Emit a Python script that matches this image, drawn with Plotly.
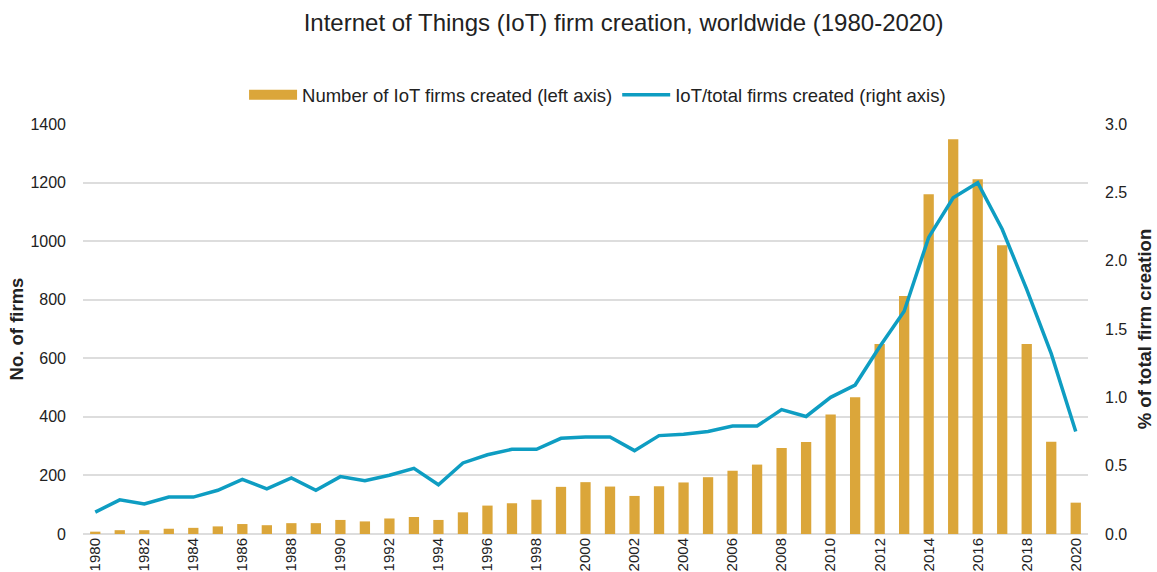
import plotly.graph_objects as go

years = list(range(1980, 2021))

iot_firms = [8, 13, 13, 18, 21, 26, 34, 30, 37, 37,
             48, 43, 53, 58, 48, 74, 97, 105, 117, 161,
             177, 162, 130, 163, 176, 194, 216, 237, 294, 314,
             408, 467, 649, 813, 1160, 1348, 1211, 986, 649, 315,
             107]

iot_share = [0.16, 0.25, 0.22, 0.27, 0.27, 0.32, 0.40, 0.33, 0.41, 0.32,
             0.42, 0.39, 0.43, 0.48, 0.36, 0.52, 0.58, 0.62, 0.62, 0.70,
             0.71, 0.71, 0.61, 0.72, 0.73, 0.75, 0.79, 0.79, 0.91, 0.86,
             1.00, 1.09, 1.37, 1.63, 2.17, 2.46, 2.57, 2.23, 1.79, 1.32,
             0.75]

left_ticks = [0, 200, 400, 600, 800, 1000, 1200, 1400]
right_ticks = [0.0, 0.5, 1.0, 1.5, 2.0, 2.5, 3.0]

FONT = "Liberation Sans, Arial, sans-serif"
BAR_COLOR = "#DBA63A"
LINE_COLOR = "#0E9DC2"
BAR_NAME = "Number of IoT firms created (left axis)"
LINE_NAME = "IoT/total firms created (right axis)"

fig = go.Figure()

fig.add_trace(go.Bar(
    x=years, y=iot_firms,
    name=BAR_NAME,
    marker=dict(color=BAR_COLOR, line=dict(width=0)),
    yaxis="y",
    showlegend=False,
))

# Wide rectangular key for the bar series
fig.add_trace(go.Scatter(
    x=[None], y=[None],
    name=BAR_NAME,
    mode="lines",
    line=dict(color=BAR_COLOR, width=12),
    yaxis="y",
))

fig.add_trace(go.Scatter(
    x=years, y=iot_share,
    name=LINE_NAME,
    mode="lines",
    line=dict(color=LINE_COLOR, width=3.5),
    yaxis="y2",
))

fig.update_layout(
    width=1157, height=572,
    margin=dict(l=83, r=69, t=124, b=38, autoexpand=False),
    paper_bgcolor="white", plot_bgcolor="white",
    font=dict(family=FONT, size=16, color="#222222"),
    title=dict(
        text="Internet of Things (IoT) firm creation, worldwide (1980-2020)",
        x=0.539, xanchor="center", y=0.96, yanchor="middle",
        font=dict(family=FONT, size=24, color="#222222"),
    ),
    bargap=0.58,
    showlegend=True,
    legend=dict(
        orientation="h", x=0.512, xanchor="center", y=1.07, yanchor="middle",
        font=dict(family=FONT, size=18.5, color="#222222"),
        itemwidth=48,
    ),
    xaxis=dict(
        tickmode="array",
        tickvals=years[::2],
        ticktext=[str(y) for y in years[::2]],
        tickangle=-90,
        range=[1979.5, 2020.5],
        showgrid=False,
        showline=False,
        ticks="",
        automargin=False,
        tickfont=dict(size=15),
    ),
    yaxis=dict(
        range=[0, 1400],
        tickvals=left_ticks,
        showgrid=True, gridcolor="#DDDDDD", gridwidth=2,
        zeroline=True, zerolinecolor="#DDDDDD", zerolinewidth=2,
        ticks="", tickfont=dict(size=16),
        ticklabelstandoff=16,
        automargin=False,
        title=dict(text="<b>No. of firms</b>", font=dict(size=18.5), standoff=1),
    ),
    yaxis2=dict(
        range=[0, 3],
        tickvals=right_ticks,
        tickformat=".1f",
        overlaying="y", side="right",
        showgrid=False, zeroline=False,
        ticks="", tickfont=dict(size=16),
        ticklabelstandoff=16,
        automargin=False,
        title=dict(text="<b>% of total firm creation</b>", font=dict(size=18.5), standoff=11),
    ),
)

fig.write_html("out.html")
